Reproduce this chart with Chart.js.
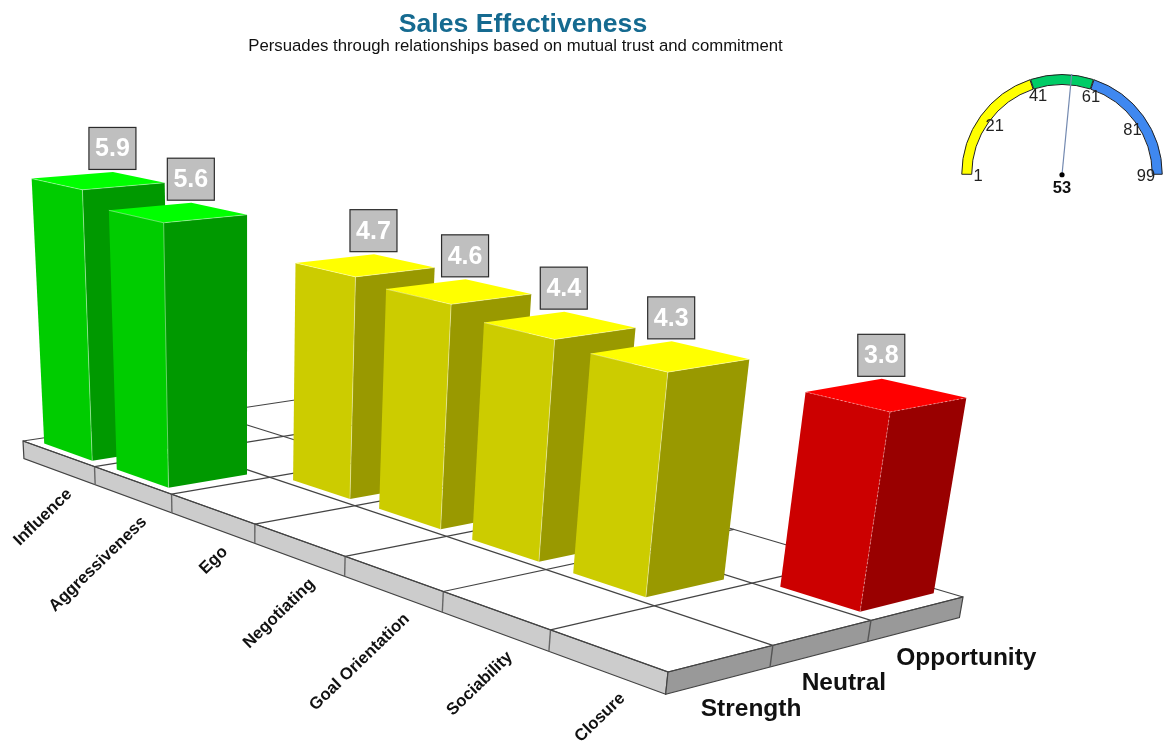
<!DOCTYPE html>
<html>
<head>
<meta charset="utf-8">
<title>Sales Effectiveness</title>
<script src="https://cdn.jsdelivr.net/npm/chart.js@4"></script>
<style>
    body { margin: 0; background: #fff; }
    #main-chart { position: absolute; left: 0; top: 0; }
    #gauge-chart { position: absolute; left: 961px; top: 74px; }
</style>
</head>
<body>
<canvas id="main-chart" width="1165" height="743"></canvas>
<canvas id="gauge-chart" width="202" height="127"></canvas>
<script>
const categories = ['Influence', 'Aggressiveness', 'Ego', 'Negotiating', 'Goal Orientation', 'Sociability', 'Closure'];
const scores = [5.9, 5.6, 4.7, 4.6, 4.4, 4.3, 3.8];
const zoneLabels = ['Strength', 'Neutral', 'Opportunity'];
const scoreZones = [0, 0, 1, 1, 1, 1, 2];

const gaugeRanges = [39, 20, 39];
const gaugeTicks = [1, 21, 41, 61, 81, 99];
const gaugeScore = 53;

const frontColors = ['#00cc00', '#00cc00', '#cccc00', '#cccc00', '#cccc00', '#cccc00', '#cc0000'];
const sideColors = ['#009900', '#009900', '#999900', '#999900', '#999900', '#999900', '#990000'];
const topColors = ['#00ff00', '#00ff00', '#ffff00', '#ffff00', '#ffff00', '#ffff00', '#ff0000'];

// Camera: where the corners of the floor land on screen, and where verticals converge
const floorA = [23, 441], floorB = [668, 672], floorC = [963, 597], floorD = [295, 400];
const verticalVanish = [246, 4700];
const heightPerspective = -0.0099;
const slabDepth = 0.42;
const zoneBarShare = 0.8;

const persp = (function() {
    const dx1 = floorB[0] - floorC[0], dx2 = floorD[0] - floorC[0], sx = floorA[0] - floorB[0] + floorC[0] - floorD[0];
    const dy1 = floorB[1] - floorC[1], dy2 = floorD[1] - floorC[1], sy = floorA[1] - floorB[1] + floorC[1] - floorD[1];
    const den = dx1 * dy2 - dy1 * dx2;
    return { g: (sx * dy2 - sy * dx2) / den, h: (dx1 * sy - dy1 * sx) / den };
})();

// u runs along the category edge, v along the zone edge, z is the height in score units
function project(u, v, z) {
    const w = 1 + persp.g * u + persp.h * v;
    const nx = floorA[0] + (floorB[0] * (1 + persp.g) - floorA[0]) * u + (floorD[0] * (1 + persp.h) - floorA[0]) * v;
    const ny = floorA[1] + (floorB[1] * (1 + persp.g) - floorA[1]) * u + (floorD[1] * (1 + persp.h) - floorA[1]) * v;
    const k = z * heightPerspective;
    return [(nx + k * verticalVanish[0]) / (w + k), (ny + k * verticalVanish[1]) / (w + k)];
}

function polygon(ctx, points, fill, stroke, lineWidth) {
    ctx.beginPath();
    points.forEach(function(p, i) {
        if (i === 0) ctx.moveTo(p[0], p[1]); else ctx.lineTo(p[0], p[1]);
    });
    ctx.closePath();
    if (fill) { ctx.fillStyle = fill; ctx.fill(); }
    if (stroke) { ctx.strokeStyle = stroke; ctx.lineWidth = lineWidth || 1; ctx.stroke(); }
}

function line(ctx, a, b, color, width) {
    ctx.beginPath();
    ctx.moveTo(a[0], a[1]);
    ctx.lineTo(b[0], b[1]);
    ctx.strokeStyle = color;
    ctx.lineWidth = width;
    ctx.stroke();
}

function barBox(chart, bar, i) {
    const x = chart.scales.x, y = chart.scales.y, zone = chart.scales.zone;
    const zoneWidth = zone.width / zoneLabels.length * zoneBarShare;
    const zoneCenter = zone.getPixelForValue(scoreZones[i]);
    return {
        u0: (bar.x - bar.width / 2 - x.left) / x.width,
        u1: (bar.x + bar.width / 2 - x.left) / x.width,
        v0: (zoneCenter - zoneWidth / 2 - zone.left) / zone.width,
        v1: (zoneCenter + zoneWidth / 2 - zone.left) / zone.width,
        z: (bar.base - bar.y) / y.height * y.max
    };
}

class Box3DController extends Chart.BarController {
    draw() {
        const chart = this.chart, ctx = chart.ctx;
        this.getMeta().data.forEach(function(bar, i) {
            const b = barBox(chart, bar, i);
            const base = [project(b.u0, b.v0, 0), project(b.u1, b.v0, 0), project(b.u1, b.v1, 0)];
            const top = [project(b.u0, b.v0, b.z), project(b.u1, b.v0, b.z), project(b.u1, b.v1, b.z), project(b.u0, b.v1, b.z)];
            polygon(ctx, [base[1], base[2], top[2], top[1]], sideColors[i]);
            polygon(ctx, [base[0], base[1], top[1], top[0]], bar.options.backgroundColor);
            polygon(ctx, top, topColors[i]);
            // thin light seams between the faces, dashed on the red bar
            ctx.save();
            if (scoreZones[i] === 2) ctx.setLineDash([2, 2]);
            line(ctx, base[1], top[1], 'rgba(255,255,255,0.5)', 0.8);
            line(ctx, top[0], top[1], 'rgba(255,255,255,0.5)', 0.8);
            line(ctx, top[1], top[2], 'rgba(255,255,255,0.5)', 0.8);
            ctx.restore();
        });
    }
}
Box3DController.id = 'box3d';
Chart.register(Box3DController);

const floorPlugin = {
    id: 'floorPlugin',
    beforeDatasetsDraw: function(chart) {
        const ctx = chart.ctx, x = chart.scales.x, zone = chart.scales.zone;
        const nCat = categories.length, nZone = zoneLabels.length;
        const edge = '#444444';
        ctx.save();
        polygon(ctx, [project(0, 0, 0), project(1, 0, 0), project(1, 1, 0), project(0, 1, 0)], '#ffffff');
        polygon(ctx, [project(0, 0, 0), project(1, 0, 0), project(1, 0, -slabDepth), project(0, 0, -slabDepth)], '#cccccc', edge, 1.2);
        polygon(ctx, [project(1, 0, 0), project(1, 1, 0), project(1, 1, -slabDepth), project(1, 0, -slabDepth)], '#999999', edge, 1.2);
        for (let i = 0; i <= nCat; i++) {
            const u = i / nCat;
            line(ctx, project(u, 0, 0), project(u, 1, 0), edge, 1.2);
            if (i > 0 && i < nCat) line(ctx, project(u, 0, 0), project(u, 0, -slabDepth), '#666666', 1.4);
        }
        for (let j = 0; j <= nZone; j++) {
            const v = j / nZone;
            line(ctx, project(0, v, 0), project(1, v, 0), edge, 1.2);
            if (j > 0 && j < nZone) line(ctx, project(1, v, 0), project(1, v, -slabDepth), '#555555', 1.4);
        }

        ctx.fillStyle = '#111111';
        ctx.font = 'bold 16.8px "Liberation Sans", Arial, sans-serif';
        ctx.textAlign = 'right';
        ctx.textBaseline = 'middle';
        categories.forEach(function(name, i) {
            const u = (x.getPixelForValue(i) - x.left) / x.width;
            const p = project(u, 0, -slabDepth);
            ctx.save();
            ctx.translate(p[0] + 10 + 7 * u, p[1] + 20 + 4 * u);
            ctx.rotate(-44 * Math.PI / 180);
            ctx.fillText(name, 0, 0);
            ctx.restore();
        });

        ctx.font = 'bold 24.5px "Liberation Sans", Arial, sans-serif';
        ctx.textAlign = 'left';
        zoneLabels.forEach(function(name, j) {
            const p = project(1, (zone.getPixelForValue(j) - zone.left) / zone.width, -slabDepth);
            ctx.fillText(name, p[0] - 18, p[1] + 29);
        });

        ctx.font = '16.75px "Liberation Sans", Arial, sans-serif';
        ctx.textAlign = 'center';
        ctx.fillText('Persuades through relationships based on mutual trust and commitment', 515.5, 46);
        ctx.restore();
    },
    afterDatasetsDraw: function(chart) {
        const ctx = chart.ctx;
        ctx.save();
        chart.getDatasetMeta(0).data.forEach(function(bar, i) {
            const b = barBox(chart, bar, i);
            const back = project(b.u0, b.v1, b.z);
            ctx.fillStyle = '#bfbfbf';
            ctx.strokeStyle = '#2b2b2b';
            ctx.lineWidth = 1.2;
            ctx.fillRect(back[0] - 24, back[1] - 44.5, 47, 42);
            ctx.strokeRect(back[0] - 24, back[1] - 44.5, 47, 42);
            ctx.fillStyle = '#ffffff';
            ctx.font = 'bold 25px "Liberation Sans", Arial, sans-serif';
            ctx.textAlign = 'center';
            ctx.textBaseline = 'middle';
            ctx.fillText(scores[i].toFixed(1), back[0] - 0.5, back[1] - 22.5);
        });
        ctx.restore();
    }
};

new Chart(document.getElementById('main-chart'), {
    type: 'box3d',
    data: {
        labels: categories,
        datasets: [{
            data: scores,
            backgroundColor: frontColors,
            barPercentage: 0.67,
            categoryPercentage: 1,
            xAxisID: 'x',
            yAxisID: 'y'
        }]
    },
    options: {
        responsive: false,
        animation: false,
        layout: { padding: { right: 119 } },
        scales: {
            x: { type: 'category', offset: true, display: false },
            zone: { type: 'category', axis: 'x', position: 'top', labels: zoneLabels, offset: true, display: false },
            y: { type: 'linear', min: 0, max: 7, display: false }
        },
        plugins: {
            legend: { display: false },
            tooltip: { enabled: false },
            title: {
                display: true,
                text: 'Sales Effectiveness',
                color: '#156a90',
                font: { family: '"Liberation Sans", Arial, sans-serif', size: 26.6, weight: 'bold' },
                padding: { top: 8.5, bottom: 4 }
            }
        }
    },
    plugins: [floorPlugin]
});

// Needle, dot and tick numbers of the small gauge
const gaugePlugin = {
    id: 'gaugePlugin',
    afterDatasetsDraw: function(chart) {
        const ctx = chart.ctx, arc = chart.getDatasetMeta(0).data[0];
        const cx = arc.x, cy = arc.y;
        const tickMin = gaugeTicks[0], tickMax = gaugeTicks[gaugeTicks.length - 1];
        const angleOf = function(value) {
            return Math.PI + (value - tickMin) / (tickMax - tickMin) * Math.PI;
        };
        ctx.save();
        const a = angleOf(gaugeScore);
        line(ctx, [cx, cy], [cx + Math.cos(a) * 103, cy + Math.sin(a) * 103], '#7389b0', 1.2);
        ctx.beginPath();
        ctx.arc(cx, cy, 2.6, 0, Math.PI * 2);
        ctx.fillStyle = '#000';
        ctx.fill();

        ctx.font = '16.5px "Liberation Sans", Arial, sans-serif';
        ctx.fillStyle = '#222';
        ctx.textAlign = 'center';
        ctx.textBaseline = 'middle';
        gaugeTicks.forEach(function(t) {
            const ta = angleOf(t);
            ctx.fillText(t, cx + Math.cos(ta) * 84, cy + Math.sin(ta) * 84 + 2);
        });
        ctx.font = 'bold 16.5px "Liberation Sans", Arial, sans-serif';
        ctx.fillStyle = '#111';
        ctx.fillText(gaugeScore, cx, cy + 14);
        ctx.restore();
    }
};

new Chart(document.getElementById('gauge-chart'), {
    type: 'doughnut',
    data: {
        labels: ['Low', 'Mid', 'High'],
        datasets: [{
            data: gaugeRanges,
            backgroundColor: ['#ffff00', '#00cc66', '#3f88f0'],
            borderColor: '#222222',
            borderWidth: 1,
            spacing: 1.5
        }]
    },
    options: {
        responsive: false,
        animation: false,
        rotation: -90,
        circumference: 180,
        cutout: '90%',
        layout: { padding: { bottom: 25 } },
        plugins: { legend: { display: false }, tooltip: { enabled: false } }
    },
    plugins: [gaugePlugin]
});
</script>
</body>
</html>
